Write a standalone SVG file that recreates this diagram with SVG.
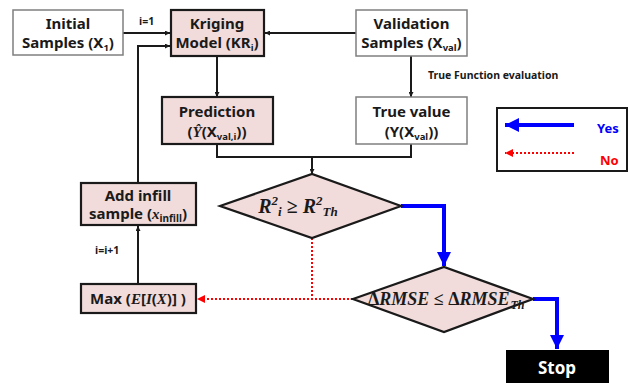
<svg xmlns="http://www.w3.org/2000/svg" width="629" height="383" viewBox="0 0 629 383">
<defs>
<style>
.box{stroke:#7f7f7f;stroke-width:1.5;fill:#fff}
.pbox{stroke:#1a1a1a;stroke-width:2.2;fill:#f2dcdb}
.t{font-family:"Noto Sans","Open Sans","Liberation Sans",sans-serif;font-weight:bold;font-size:15px;fill:#1a1a1a;text-anchor:middle}
.s{font-family:"Noto Sans","Liberation Sans",sans-serif;font-weight:bold;font-size:10.5px;fill:#1a1a1a}
.m{font-family:"Liberation Serif","DejaVu Serif",serif;font-style:italic;font-weight:bold;fill:#1a1a1a}
.blk{stroke:#1a1a1a;stroke-width:2;fill:none}
.blue{stroke:#0000ff;stroke-width:4;fill:none}
.red{stroke:#ff0000;stroke-width:2;fill:none;stroke-dasharray:2,2}
</style>
<marker id="ab" viewBox="0 0 10 10" refX="10" refY="5" markerWidth="5" markerHeight="5" orient="auto" markerUnits="userSpaceOnUse"><path d="M0,0L10,5L0,10z" fill="#1a1a1a"/></marker>
<marker id="abl" viewBox="0 0 10 10" refX="10" refY="5" markerWidth="14" markerHeight="14" orient="auto" markerUnits="userSpaceOnUse"><path d="M0,0L10,5L0,10z" fill="#0000ff"/></marker>
<marker id="ar" viewBox="0 0 10 10" refX="10" refY="5" markerWidth="8" markerHeight="8" orient="auto" markerUnits="userSpaceOnUse"><path d="M0,0L10,5L0,10z" fill="#ff0000"/></marker>
</defs>
<rect width="629" height="383" fill="#fff"/>

<g id="connectors">
<line class="blk" x1="123" y1="33" x2="170" y2="33" marker-end="url(#ab)"/>
<path class="blk" d="M138,183V46H170" marker-end="url(#ab)"/>
<line class="blk" x1="356" y1="33" x2="265" y2="33" marker-end="url(#ab)"/>
<line class="blk" x1="217" y1="57" x2="217" y2="97" marker-end="url(#ab)"/>
<line class="blk" x1="411" y1="56" x2="411" y2="97" marker-end="url(#ab)"/>
<path class="blk" d="M217,144V157H411V144"/>
<line class="blk" x1="312" y1="157" x2="312" y2="174" marker-end="url(#ab)"/>
<line class="blk" x1="138" y1="284" x2="138" y2="226" marker-end="url(#ab)"/>
<path class="blue" d="M401,206H444V266" marker-end="url(#abl)"/>
<path class="blue" d="M533,299H557V349" marker-end="url(#abl)"/>
<path class="red" d="M312,238V299"/>
<line class="red" x1="353" y1="299" x2="197" y2="299" marker-end="url(#ar)"/>
<text class="s" x="139" y="25">i=1</text>
<text class="s" x="428" y="79">True Function evaluation</text>
<text class="s" x="95" y="254">i=i+1</text>
</g>

<g id="initial">
<rect class="box" x="13" y="10" width="110" height="45"/>
<text class="t" x="68" y="29">Initial</text>
<text class="t" x="68" y="48">Samples (X<tspan font-size="9.5" dy="3">1</tspan><tspan dy="-3">)</tspan></text>
</g>
<g id="kriging">
<rect class="pbox" x="171" y="10" width="93" height="46"/>
<text class="t" x="217" y="29">Kriging</text>
<text class="t" x="217" y="48">Model (KR<tspan font-size="9.5" dy="3">i</tspan><tspan dy="-3">)</tspan></text>
</g>
<g id="validation">
<rect class="box" x="356" y="10" width="111" height="46"/>
<text class="t" x="411.5" y="29">Validation</text>
<text class="t" x="411.5" y="48">Samples (X<tspan font-size="9.5" dy="3">val</tspan><tspan dy="-3">)</tspan></text>
</g>
<g id="prediction">
<rect class="pbox" x="162" y="97" width="111" height="47"/>
<text class="t" x="217" y="117">Prediction</text>
<text class="t" x="217" y="137">(<tspan font-family="Liberation Serif,serif" font-style="italic">Ŷ</tspan>(X<tspan font-size="9.5" dy="3">val,i</tspan><tspan dy="-3">))</tspan></text>
</g>
<g id="truevalue">
<rect class="box" x="356" y="97" width="111" height="47"/>
<text class="t" x="411.5" y="117">True value</text>
<text class="t" x="411.5" y="137">(Y(X<tspan font-size="9.5" dy="3">val</tspan><tspan dy="-3">))</tspan></text>
</g>
<g id="decision1">
<polygon class="pbox" points="220,206 312,174 401,206 312,238"/>
<text class="m" x="298" y="213" font-size="20" text-anchor="middle">R<tspan font-size="13" dy="-8">2</tspan><tspan font-size="13" dy="11">i</tspan><tspan dy="-3" font-style="normal"> ≥ </tspan>R<tspan font-size="13" dy="-8">2</tspan><tspan font-size="13" dy="11">Th</tspan></text>
</g>
<g id="addinfill">
<rect class="pbox" x="81" y="183" width="115" height="42"/>
<text class="t" x="138" y="201">Add infill</text>
<text class="t" x="138" y="219">sample (<tspan font-family="Liberation Serif,serif" font-style="italic">x</tspan><tspan font-size="10" dy="3">infill</tspan><tspan dy="-3">)</tspan></text>
</g>
<g id="max">
<rect class="pbox" x="81" y="284" width="115" height="29"/>
<text class="t" x="138" y="304">Max (<tspan font-family="Liberation Serif,serif" font-style="italic">E</tspan>[<tspan font-family="Liberation Serif,serif" font-style="italic">I</tspan>(<tspan font-family="Liberation Serif,serif" font-style="italic">X</tspan>)] )</text>
</g>
<g id="decision2">
<polygon class="pbox" points="353,299 444,267 533,299 444,332"/>
<text class="m" x="368" y="305" font-size="18"><tspan font-style="normal">Δ</tspan>RMSE <tspan font-style="normal">≤ Δ</tspan>RMSE<tspan font-size="12" dy="4" dx="1">Th</tspan></text>
</g>
<g id="stop">
<rect x="506" y="350" width="103" height="40" fill="#000"/>
<text x="557" y="374" font-family="Noto Sans,Liberation Sans,sans-serif" font-weight="bold" font-size="17" fill="#fff" text-anchor="middle">Stop</text>
</g>
<g id="legend">
<rect x="497" y="108" width="130" height="63" fill="#fff" stroke="#1a1a1a" stroke-width="2"/>
<line class="blue" x1="574" y1="125" x2="505" y2="125" marker-end="url(#abl)"/>
<text x="597" y="133" font-family="Noto Sans,Liberation Sans,sans-serif" font-weight="bold" font-size="13" fill="#0000ff">Yes</text>
<line class="red" x1="574" y1="153" x2="505" y2="153" marker-end="url(#ar)"/>
<text x="600" y="165" font-family="Noto Sans,Liberation Sans,sans-serif" font-weight="bold" font-size="13" fill="#ff0000">No</text>
</g>
</svg>
